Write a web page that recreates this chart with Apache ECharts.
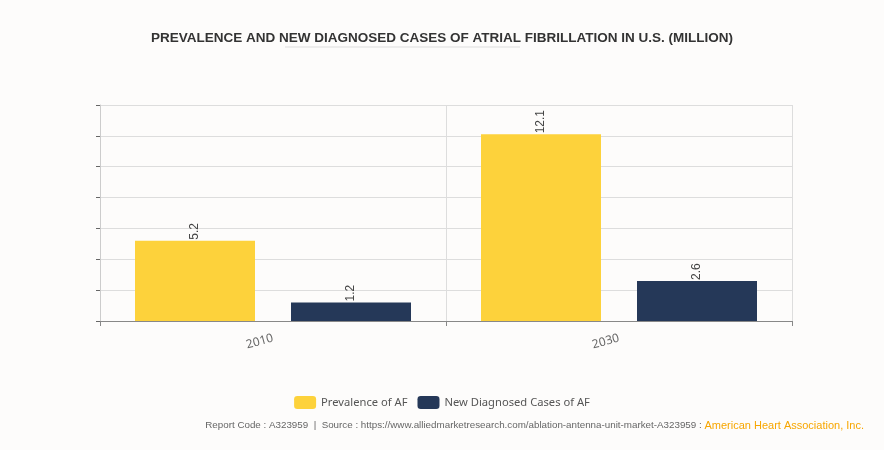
<!DOCTYPE html>
<html><head><meta charset="utf-8">
<script src="https://cdn.jsdelivr.net/npm/echarts@6/dist/echarts.min.js"></script>
<style>html,body{margin:0;padding:0;background:#fdfcfb;}#c{width:884px;height:450px;}</style>
</head><body><div id="c"></div>
<script>
const categories = ['2010', '2030'];
const prevalence = [5.2, 12.1];
const newCases = [1.2, 2.6];
const seriesNames = ['Prevalence of AF', 'New Diagnosed Cases of AF'];

const chart = echarts.init(document.getElementById('c'));
const lbl = {show: true, position: 'top', rotate: 90, align: 'left', verticalAlign: 'middle', distance: 1, color: '#444', fontSize: 12, fontFamily: 'Liberation Sans'};
chart.setOption({
  backgroundColor: '#fdfcfb',
  title: {text: 'PREVALENCE AND NEW DIAGNOSED CASES OF ATRIAL FIBRILLATION IN U.S. (MILLION)', left: 'center', top: 26,
    textStyle: {fontSize: 13.5, fontWeight: 'bold', color: '#333', fontFamily: 'Liberation Sans'}},
  graphic: [
    {type: 'line', shape: {x1: 285, y1: 47, x2: 520, y2: 47}, style: {stroke: '#ddd', lineWidth: 1}},
    {type: 'text', right: 20, top: 420, style: {
      text: '{a|Report Code : A323959  |  Source : https://www.alliedmarketresearch.com/ablation-antenna-unit-market-A323959 : }{b|American Heart Association, Inc.}',
      rich: {a: {fill: '#666', fontSize: 9.8, fontFamily: 'Liberation Sans'}, b: {fill: '#f7a600', fontSize: 11, fontFamily: 'Liberation Sans'}}}}
  ],
  legend: {data: seriesNames, top: 391, left: 'center', itemWidth: 22, itemHeight: 13, itemGap: 10,
    textStyle: {color: '#555', fontSize: 11.2, fontFamily: 'Noto Sans'}},
  grid: {left: 100, right: 92, top: 105, bottom: 129},
  xAxis: {type: 'category', data: categories,
    axisLine: {lineStyle: {color: '#888'}},
    axisTick: {show: true, interval: 0, lineStyle: {color: '#888'}},
    splitLine: {show: true, interval: 0, lineStyle: {color: '#ddd'}},
    axisLabel: {rotate: 15, color: '#666', fontSize: 12, margin: 17, fontFamily: 'Noto Sans'}},
  yAxis: {type: 'value', min: 0, max: 14, interval: 2,
    axisLine: {show: true, lineStyle: {color: '#ccc'}},
    axisTick: {show: true, length: 4, lineStyle: {color: '#666'}},
    axisLabel: {show: false},
    splitLine: {lineStyle: {color: '#ddd'}}},
  series: [
    {name: seriesNames[0], type: 'bar', data: prevalence, barWidth: 120, barGap: '30%', itemStyle: {color: '#fdd23b'}, label: lbl},
    {name: seriesNames[1], type: 'bar', data: newCases, barWidth: 120, itemStyle: {color: '#253858'}, label: lbl}
  ]
});
</script></body></html>
